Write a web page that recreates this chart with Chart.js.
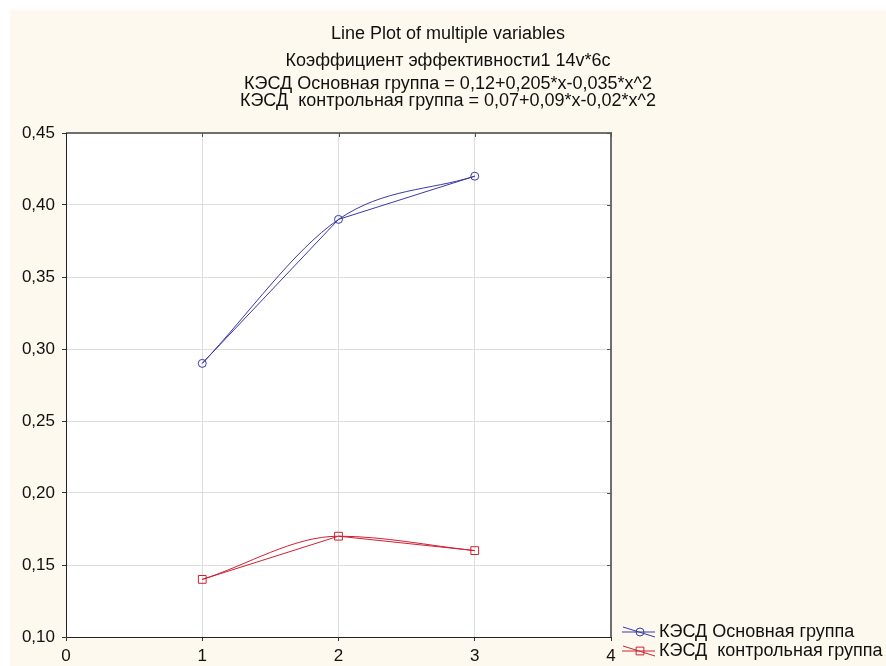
<!DOCTYPE html>
<html><head><meta charset="utf-8">
<script src="https://cdn.jsdelivr.net/npm/chart.js@4.4.1/dist/chart.umd.min.js"></script>
<style>html,body{margin:0;padding:0;background:#fff;}canvas{display:block}</style>
</head><body><canvas id="c" width="886" height="666"></canvas>
<script>
const titleLines = ["Line Plot of multiple variables", "Коэффициент эффективности1 14v*6c"];
const formulaLines = ["КЭСД Основная группа = 0,12+0,205*x-0,035*x^2", "КЭСД  контрольная группа = 0,07+0,09*x-0,02*x^2"];
const seriesNames = ["КЭСД Основная группа", "КЭСД  контрольная группа"];
const xValues = [1, 2, 3];
const mainGroup = [0.29, 0.39, 0.42];
const controlGroup = [0.14, 0.17, 0.16];
const xTicks = [0, 1, 2, 3, 4];
const yTicks = [0.10, 0.15, 0.20, 0.25, 0.30, 0.35, 0.40, 0.45];

const BLUE = '#3a3aa8';
const RED = '#cc2233';
const FONT = '"Liberation Sans", Arial, sans-serif';

const pts = vals => xValues.map((x, i) => ({x: x, y: vals[i]}));

const bgPlugin = {
  id: 'bg',
  beforeDraw(chart) {
    const c = chart.ctx, a = chart.chartArea;
    c.save();
    c.fillStyle = '#fff';
    c.fillRect(0, 0, chart.width, chart.height);
    c.fillStyle = '#fef9ee';
    c.fillRect(10, 10, chart.width - 10, chart.height - 10);
    c.fillStyle = '#fff';
    c.fillRect(a.left, a.top, a.right - a.left, a.bottom - a.top);
    c.restore();
  }
};

const framePlugin = {
  id: 'frame',
  afterDraw(chart) {
    const c = chart.ctx, a = chart.chartArea;
    const xs = chart.scales.x, ys = chart.scales.y;
    c.save();
    c.strokeStyle = '#707070';
    c.lineWidth = 2;
    c.beginPath();
    c.moveTo(a.left, a.top); c.lineTo(a.right, a.top); c.lineTo(a.right, a.bottom);
    c.stroke();
    c.lineWidth = 1;
    c.strokeStyle = '#555';
    c.beginPath();
    xTicks.forEach(v => { const px = Math.round(xs.getPixelForValue(v)) + 0.5; c.moveTo(px, a.top); c.lineTo(px, a.top + 4); });
    yTicks.forEach(v => { const py = Math.round(ys.getPixelForValue(v)) + 0.5; c.moveTo(a.right, py); c.lineTo(a.right - 4, py); });
    c.stroke();
    c.strokeStyle = '#222';
    c.beginPath();
    c.moveTo(a.left + 0.5, a.top); c.lineTo(a.left + 0.5, a.bottom + 0.5); c.lineTo(a.right, a.bottom + 0.5);
    c.stroke();
    c.restore();
  }
};

const legendPlugin = {
  id: 'customLegend',
  afterDraw(chart) {
    const c = chart.ctx, a = chart.chartArea;
    const x0 = a.right + 11;
    const rows = [{y: a.bottom - 5, ds: 0}, {y: a.bottom + 14, ds: 2}];
    rows.forEach(r => {
      const ds = chart.data.datasets[r.ds];
      c.save();
      c.strokeStyle = ds.borderColor;
      c.lineWidth = 1;
      c.beginPath();
      c.moveTo(x0, r.y); c.lineTo(x0 + 33, r.y);
      c.moveTo(x0 + 1, r.y - 5); c.lineTo(x0 + 33, r.y + 5);
      c.stroke();
      c.fillStyle = 'rgba(0,0,0,0)';
      Chart.helpers.drawPoint(c, {pointStyle: ds.pointStyle, radius: ds.pointRadius, rotation: 0, borderWidth: 1}, x0 + 18, r.y);
      c.fillStyle = '#111';
      c.font = '18px ' + FONT;
      c.textBaseline = 'middle';
      c.textAlign = 'left';
      c.fillText(ds.label, x0 + 37, r.y);
      c.restore();
    });
  }
};

const lineDs = (label, vals, color, style, radius) => ({
  label: label, data: pts(vals), showLine: true, tension: 0,
  borderColor: color, borderWidth: 1, pointStyle: style, pointRadius: radius,
  pointBorderColor: color, pointBorderWidth: 1, pointBackgroundColor: 'rgba(0,0,0,0)', fill: false
});
const fitDs = (label, vals, color) => ({
  label: label + ' fit', data: pts(vals), showLine: true, cubicInterpolationMode: 'monotone', tension: 0.4,
  borderColor: color, borderWidth: 1, pointRadius: 0, fill: false
});

new Chart(document.getElementById('c'), {
  type: 'scatter',
  data: {
    datasets: [
      lineDs(seriesNames[0], mainGroup, BLUE, 'circle', 4),
      fitDs(seriesNames[0], mainGroup, BLUE),
      lineDs(seriesNames[1], controlGroup, RED, 'rect', 5.5),
      fitDs(seriesNames[1], controlGroup, RED)
    ]
  },
  options: {
    responsive: false, animation: false, devicePixelRatio: 1,
    layout: {padding: {left: 10, top: 10, right: 0, bottom: 0}},
    plugins: {
      legend: {display: false},
      tooltip: {enabled: false},
      title: {display: true, text: titleLines, color: '#111',
        font: {family: FONT, size: 18, weight: 'normal', lineHeight: '27px'},
        padding: {top: 11, bottom: 0}},
      subtitle: {display: true, text: formulaLines, color: '#111',
        font: {family: FONT, size: 18, weight: 'normal', lineHeight: '17px'},
        padding: {top: 0.5, bottom: 23.5}}
    },
    scales: {
      x: {type: 'linear', min: 0, max: 4,
        afterBuildTicks: s => { s.ticks = xTicks.map(v => ({value: v})); },
        afterFit: s => { s.height = 29; },
        grid: {color: '#dedede', lineWidth: 1, drawTicks: true, tickLength: 4, tickColor: '#333'},
        border: {display: false},
        ticks: {color: '#111', font: {family: FONT, size: 17}, padding: 5, callback: v => String(v)}},
      y: {type: 'linear', min: 0.10, max: 0.45,
        afterBuildTicks: s => { s.ticks = yTicks.map(v => ({value: v})); },
        afterFit: s => { s.width = 56; },
        grid: {color: '#dedede', lineWidth: 1, drawTicks: true, tickLength: 4, tickColor: '#333'},
        border: {display: false},
        ticks: {color: '#111', font: {family: FONT, size: 17}, padding: 7,
          callback: v => v.toFixed(2).replace('.', ',')}},
      legendSpace: {type: 'linear', position: 'right', display: true,
        grid: {display: false, drawTicks: false}, border: {display: false},
        ticks: {display: false},
        afterFit: s => { s.width = 275; }}
    }
  },
  plugins: [bgPlugin, framePlugin, legendPlugin]
});
</script>
</body></html>
